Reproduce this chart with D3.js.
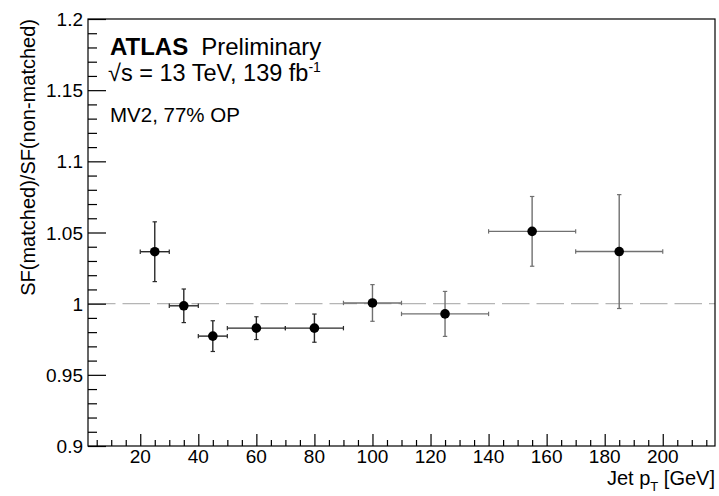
<!DOCTYPE html>
<html><head><meta charset="utf-8">
<script src="https://cdn.jsdelivr.net/npm/d3@7"></script>
<style>
body{margin:0;background:#fff;}
text{font-family:"Liberation Sans",Arial,Helvetica,sans-serif;}
</style></head>
<body><svg id="c" width="719" height="496"></svg>
<script>
// Data
const ptCenter = [25, 35, 45, 60, 80, 100, 125, 155, 185];
const ptLow    = [20, 30, 40, 50, 70, 90, 110, 140, 170];
const ptHigh   = [30, 40, 50, 70, 90, 110, 140, 170, 200];
const sfRatio  = [1.0365, 0.9985, 0.9772, 0.9828, 0.9828, 1.0005, 0.9928, 1.0508, 1.0366];
const errUp    = [0.0210, 0.0118, 0.0108, 0.0080, 0.0099, 0.0129, 0.0158, 0.0245, 0.0400];
const errDown  = [0.0210, 0.0118, 0.0108, 0.0080, 0.0099, 0.0129, 0.0158, 0.0245, 0.0400];
const xTickLabels = [20, 40, 60, 80, 100, 120, 140, 160, 180, 200];
const yTickLabels = [0.9, 0.95, 1, 1.05, 1.1, 1.15, 1.2];

const svg = d3.select("#c");
const L = 88, R = 715, T = 19, B = 446;
const x = d3.scaleLinear().domain([2, 218]).range([L, R]);
const y = d3.scaleLinear().domain([0.9, 1.2]).range([B, T]);

// reference line at 1
svg.append("line").attr("x1", L).attr("x2", R).attr("y1", y(1)).attr("y2", y(1))
  .attr("stroke", "#b5b5b5").attr("stroke-width", 1.3).attr("stroke-dasharray", "27.5,7");

// frame
svg.append("rect").attr("x", L).attr("y", T).attr("width", R - L).attr("height", B - T)
  .attr("fill", "none").attr("stroke", "#000").attr("stroke-width", 1.2);

// X axis
const xMinor = d3.range(5, 216, 5).filter(v => v % 20 !== 0);
const xAxisMaj = d3.axisTop(x).tickValues(xTickLabels).tickSize(12).tickFormat("");
const xAxisMin = d3.axisTop(x).tickValues(xMinor).tickSize(6).tickFormat("");
[xAxisMaj, xAxisMin].forEach(ax => {
  const g = svg.append("g").attr("transform", `translate(0,${B})`).call(ax);
  g.select(".domain").remove();
  g.selectAll("line").attr("stroke", "#000").attr("stroke-width", 1.2);
});
svg.append("g").selectAll("text").data(xTickLabels).join("text")
  .attr("x", d => x(d)).attr("y", 463).attr("text-anchor", "middle")
  .attr("font-size", 19).attr("fill", "#000").text(d => d);

// Y axis
const yMinor = d3.range(0.90, 1.2001, 0.01).filter(v => Math.abs(Math.round(v * 20) - v * 20) > 1e-6);
const yAxisMaj = d3.axisRight(y).tickValues(yTickLabels).tickSize(18).tickFormat("");
const yAxisMin = d3.axisRight(y).tickValues(yMinor).tickSize(9).tickFormat("");
[yAxisMaj, yAxisMin].forEach(ax => {
  const g = svg.append("g").attr("transform", `translate(${L},0)`).call(ax);
  g.select(".domain").remove();
  g.selectAll("line").attr("stroke", "#000").attr("stroke-width", 1.2);
});
svg.append("g").selectAll("text").data(yTickLabels).join("text")
  .attr("x", 83).attr("y", d => y(d) + 7).attr("text-anchor", "end")
  .attr("font-size", 19).attr("fill", "#000").text(d => d3.format("")(d));

// Axis titles
svg.append("text").attr("transform", `translate(35,${T}) rotate(-90)`)
  .attr("text-anchor", "end").attr("font-size", 20).text("SF(matched)/SF(non-matched)");
const xt = svg.append("text").attr("x", R).attr("y", 485).attr("text-anchor", "end").attr("font-size", 20);
xt.append("tspan").text("Jet p");
xt.append("tspan").attr("font-size", 13).attr("dy", 6).text("T");
xt.append("tspan").attr("dy", -6).text(" [GeV]");

// Points
const pts = ptCenter.map((c, i) => ({c, lo: ptLow[i], hi: ptHigh[i], v: sfRatio[i], eu: errUp[i], ed: errDown[i], i}));
const g = svg.append("g");
const col = d => d.i < 5 ? "#2a2a2a" : "#707070";
const cap = 2.2;
const pg = g.selectAll("g").data(pts).join("g");
pg.append("line").attr("x1", d => x(d.lo)).attr("x2", d => x(d.hi)).attr("y1", d => y(d.v)).attr("y2", d => y(d.v))
  .attr("stroke", col).attr("stroke-width", 1.4);
pg.append("line").attr("x1", d => x(d.c)).attr("x2", d => x(d.c)).attr("y1", d => y(d.v + d.eu)).attr("y2", d => y(d.v - d.ed))
  .attr("stroke", col).attr("stroke-width", 1.4);
// caps
pg.append("line").attr("x1", d => x(d.lo)).attr("x2", d => x(d.lo)).attr("y1", d => y(d.v) - cap).attr("y2", d => y(d.v) + cap).attr("stroke", col).attr("stroke-width", 1.2);
pg.append("line").attr("x1", d => x(d.hi)).attr("x2", d => x(d.hi)).attr("y1", d => y(d.v) - cap).attr("y2", d => y(d.v) + cap).attr("stroke", col).attr("stroke-width", 1.2);
pg.append("line").attr("x1", d => x(d.c) - cap).attr("x2", d => x(d.c) + cap).attr("y1", d => y(d.v + d.eu)).attr("y2", d => y(d.v + d.eu)).attr("stroke", col).attr("stroke-width", 1.2);
pg.append("line").attr("x1", d => x(d.c) - cap).attr("x2", d => x(d.c) + cap).attr("y1", d => y(d.v - d.ed)).attr("y2", d => y(d.v - d.ed)).attr("stroke", col).attr("stroke-width", 1.2);
pg.append("circle").attr("cx", d => x(d.c)).attr("cy", d => y(d.v)).attr("r", 4.8).attr("fill", "#000");

// Labels
const t1 = svg.append("text").attr("x", 110).attr("y", 55).attr("font-size", 24);
t1.append("tspan").attr("font-weight", "bold").text("ATLAS");
t1.append("tspan").attr("dx", 13).text("Preliminary");
const t2 = svg.append("text").attr("x", 108).attr("y", 81).attr("font-size", 23.5);
t2.append("tspan").text("√s = 13 TeV, 139 fb");
t2.append("tspan").attr("font-size", 14).attr("dy", -9).text("-1");
svg.append("text").attr("x", 110).attr("y", 122).attr("font-size", 20.5).text("MV2, 77% OP");
</script></body></html>
